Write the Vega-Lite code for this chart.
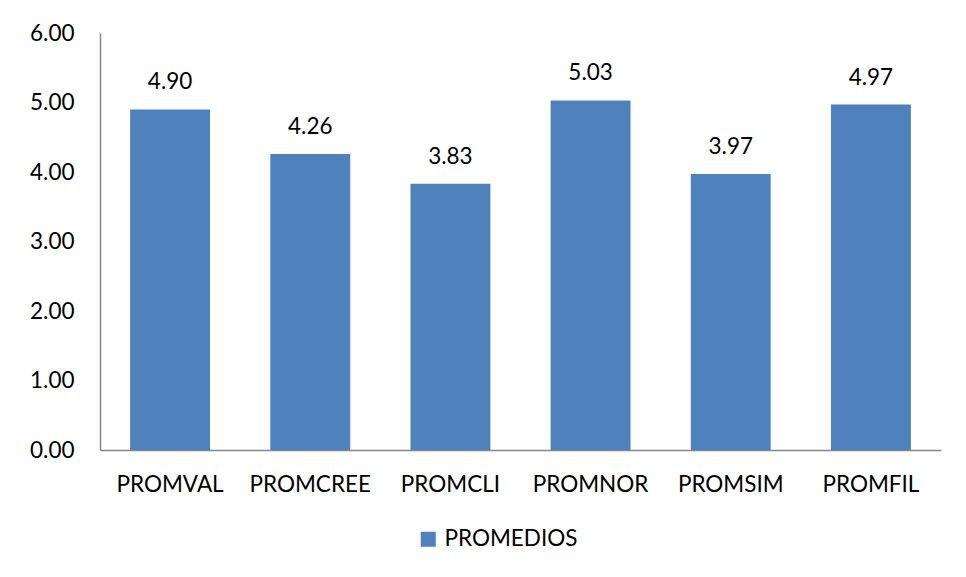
{
  "$schema": "https://vega.github.io/schema/vega-lite/v6.json",
  "width": 841,
  "height": 417,
  "autosize": {"type": "none"},
  "padding": {"left": 100, "top": 33, "right": 25, "bottom": 127},
  "background": "white",
  "config": {
    "view": {"stroke": null},
    "font": "Lato"
  },
  "data": {
    "values": [
      {"variable": "PROMVAL", "valor": 4.90, "serie": "PROMEDIOS"},
      {"variable": "PROMCREE", "valor": 4.26, "serie": "PROMEDIOS"},
      {"variable": "PROMCLI", "valor": 3.83, "serie": "PROMEDIOS"},
      {"variable": "PROMNOR", "valor": 5.03, "serie": "PROMEDIOS"},
      {"variable": "PROMSIM", "valor": 3.97, "serie": "PROMEDIOS"},
      {"variable": "PROMFIL", "valor": 4.97, "serie": "PROMEDIOS"}
    ]
  },
  "encoding": {
    "x": {
      "field": "variable",
      "type": "nominal",
      "sort": null,
      "scale": {"paddingInner": 0.43, "paddingOuter": 0.215},
      "axis": {
        "title": null,
        "labelAngle": 0,
        "labelFontSize": 22.5,
        "labelColor": "#000000",
        "labelPadding": 23,
        "ticks": false,
        "domainColor": "#868686",
        "domainWidth": 1.5
      }
    },
    "y": {
      "field": "valor",
      "type": "quantitative",
      "scale": {"domain": [0, 6]},
      "axis": {
        "title": null,
        "values": [0, 1, 2, 3, 4, 5, 6],
        "format": ".2f",
        "labelFontSize": 22.5,
        "labelColor": "#000000",
        "labelPadding": 26,
        "ticks": false,
        "grid": false,
        "domainColor": "#868686",
        "domainWidth": 1.5
      }
    }
  },
  "layer": [
    {
      "mark": {"type": "bar", "color": "#4F81BD"},
      "encoding": {
        "color": {
          "field": "serie",
          "type": "nominal",
          "scale": {"range": ["#4F81BD"]},
          "legend": {
            "title": null,
            "orient": "none",
            "legendX": 317,
            "legendY": 495,
            "symbolType": "square",
            "symbolSize": 225,
            "symbolStrokeWidth": 0,
            "labelFontSize": 22.5,
            "labelColor": "#000000",
            "labelOffset": 5
          }
        }
      }
    },
    {
      "mark": {"type": "text", "dy": -27, "fontSize": 22.5, "color": "#000000"},
      "encoding": {
        "text": {"field": "valor", "type": "quantitative", "format": ".2f"}
      }
    }
  ]
}
